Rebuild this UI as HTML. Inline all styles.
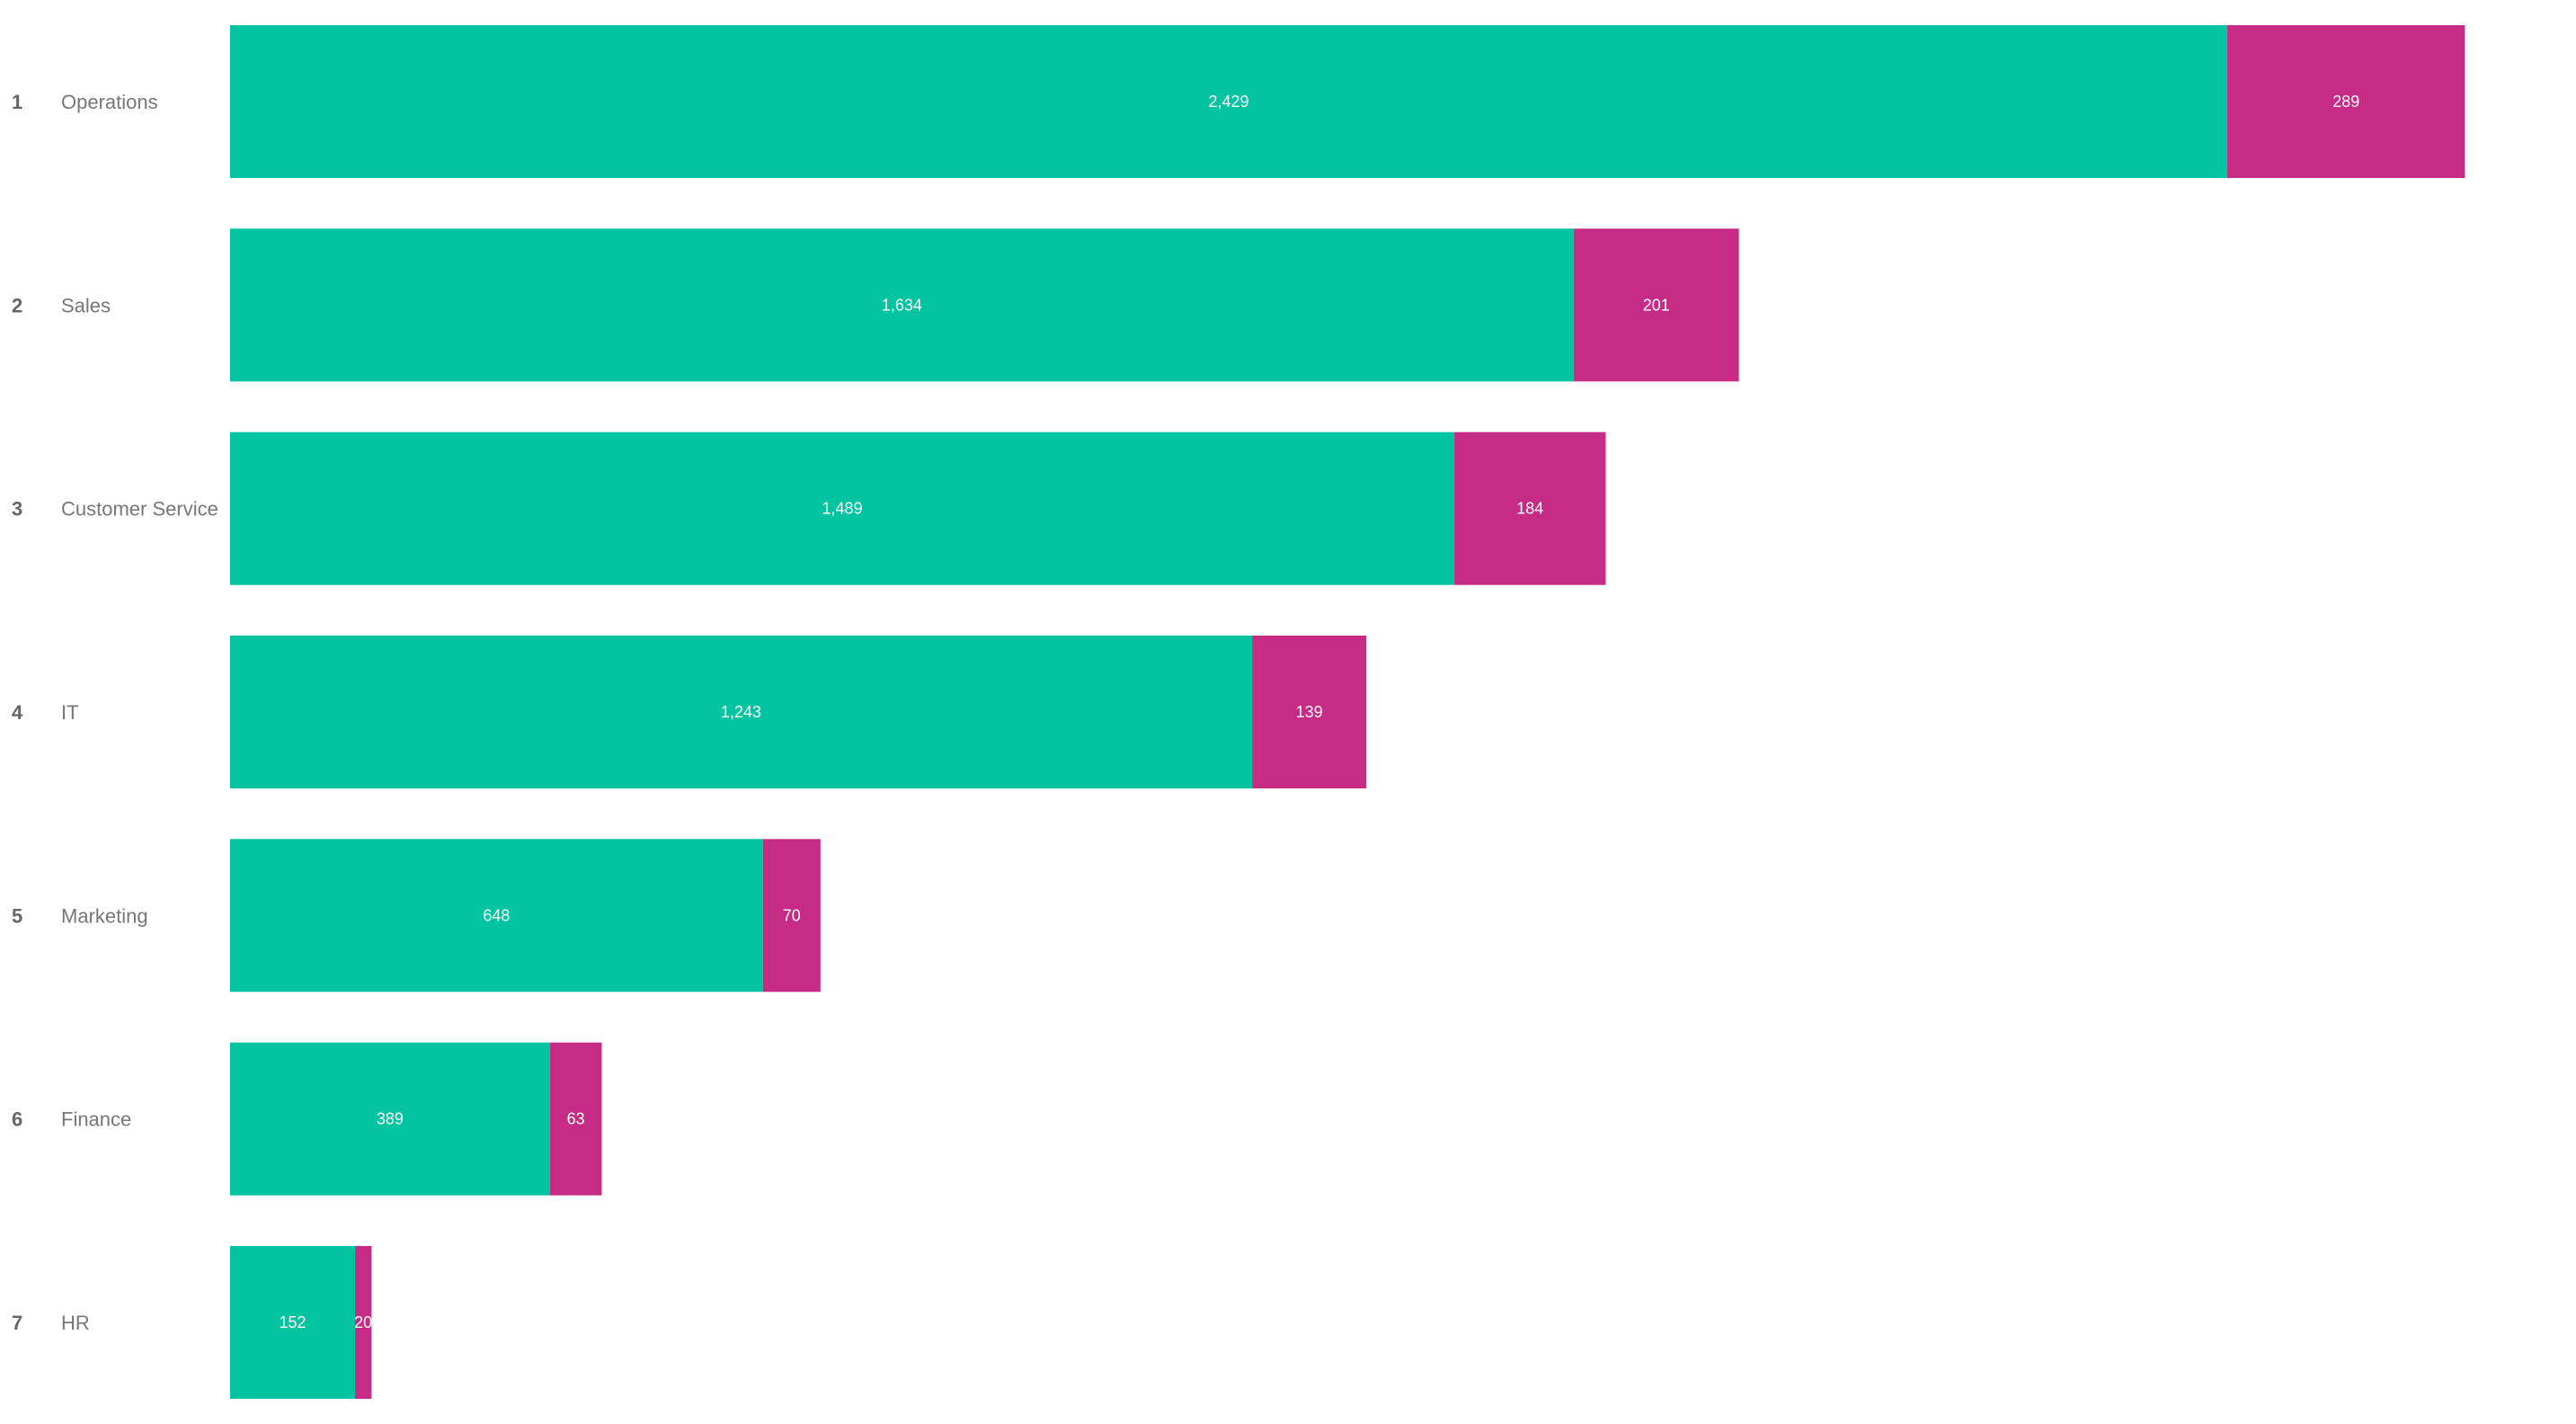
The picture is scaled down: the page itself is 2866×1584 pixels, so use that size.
<!DOCTYPE html>
<html><head><meta charset="utf-8"><style>
html,body{margin:0;padding:0;background:#fff;}
svg{display:block;font-family:"Liberation Sans",sans-serif;}
</style></head><body>
<svg id="chart" width="2866" height="1584" xmlns="http://www.w3.org/2000/svg"></svg>
<script>
const categories = ["Operations","Sales","Customer Service","IT","Marketing","Finance","HR"];
const seriesA = [2429,1634,1489,1243,648,389,152];
const seriesB = [289,201,184,139,70,63,20];
const svg = document.getElementById('chart');
const NS = 'http://www.w3.org/2000/svg';
const x0 = 256, scale = 0.9148;
const yTop = 28, pitch = 226.33, barH = 170;
function xs(v){ return x0 + v*scale; }
function yb(i){ return yTop + i*pitch; }
function fmt(v){ return v.toLocaleString('en-US'); }
function mk(tag, attrs, text){
  const el = document.createElementNS(NS, tag);
  for (const k in attrs) el.setAttribute(k, attrs[k]);
  if (text !== undefined) el.textContent = text;
  svg.appendChild(el);
  return el;
}
categories.forEach((c, i) => {
  const y = yb(i), cy = y + barH/2;
  const r = mk('text', {x:13, y:cy+8, 'font-size':22, fill:'#666', 'font-weight':'bold'}, String(i+1));
  
  
  const n = mk('text', {x:68, y:cy+8, 'font-size':22, fill:'#777'}, c);
  
  
  const a = mk('rect', {x:xs(0), y:y, width:xs(seriesA[i])-xs(0), height:barH, fill:'#03c4a1'});
  
  
  const b = mk('rect', {x:xs(seriesA[i]), y:y, width:xs(seriesA[i]+seriesB[i])-xs(seriesA[i]), height:barH, fill:'#c62b86'});
  
  
  const ta = mk('text', {x:(xs(0)+xs(seriesA[i]))/2, y:cy+6, 'font-size':18, fill:'#fff', 'text-anchor':'middle'}, fmt(seriesA[i]));
  
  
  const tb = mk('text', {x:(xs(seriesA[i])+xs(seriesA[i]+seriesB[i]))/2, y:cy+6, 'font-size':18, fill:'#fff', 'text-anchor':'middle'}, fmt(seriesB[i]));
  
  
});
</script>
</body></html>
